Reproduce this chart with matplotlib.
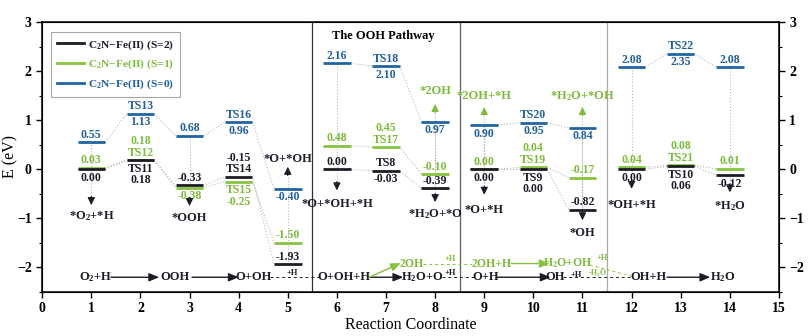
import numpy as np
import matplotlib
matplotlib.use("Agg")
import matplotlib.pyplot as plt

plt.rcParams['font.family'] = 'Liberation Serif'
plt.rcParams['font.weight'] = 'bold'
plt.rcParams['mathtext.fontset'] = 'custom'
plt.rcParams['mathtext.rm'] = 'Liberation Serif:bold'
plt.rcParams['mathtext.it'] = 'Liberation Serif:bold'
plt.rcParams['mathtext.bf'] = 'Liberation Serif:bold'

# ---- data ----
steps = [1, 2, 3, 4, 5, 6, 7, 8, 9, 10, 11, 12, 13, 14]
e_s2 = [0.00, 0.18, -0.33, -0.15, -1.93, 0.00, -0.03, -0.39, 0.00, 0.00, -0.82, 0.00, 0.06, -0.12]
e_s1 = [0.03, 0.18, -0.38, -0.25, -1.50, 0.48, 0.45, -0.10, 0.00, 0.04, -0.17, 0.04, 0.08, 0.01]
e_s0 = [0.55, 1.13, 0.68, 0.96, -0.40, 2.16, 2.10, 0.97, 0.90, 0.95, 0.84, 2.08, 2.35, 2.08]
ts_s2 = ['', 'TS11', '', 'TS14', '', '', 'TS8', '', '', 'TS9', '', '', 'TS10', '']
ts_s1 = ['', 'TS12', '', 'TS15', '', '', 'TS17', '', '', 'TS19', '', '', 'TS21', '']
ts_s0 = ['', 'TS13', '', 'TS16', '', '', 'TS18', '', '', 'TS20', '', '', 'TS22', '']
segments = [(1, 5), (6, 8), (9, 11), (12, 14)]
series_names = ['C$_2$N\u2212Fe(II) (S=2)', 'C$_2$N\u2212Fe(II) (S=1)', 'C$_2$N\u2212Fe(II) (S=0)']

# intermediates (adsorbed species)
spec_x = [1, 3, 5, 6, 8, 8, 9, 9, 11, 11, 12, 14]
spec_text = ['*O$_2$+*H', '*OOH', '*O+*OH', '*O+*OH+*H', '*H$_2$O+*O', '*2OH', '*O+*H',
             '*2OH+*H', '*OH', '*H$_2$O+*OH', '*OH+*H', '*H$_2$O']
spec_series = [0, 0, 0, 0, 0, 1, 0, 1, 0, 1, 0, 0]

# gas-phase pathway row
path_black = [('O$_2$+H', 1.08), ('OOH', 2.71), ('O+OH', 4.3), ('O+OH+H', 6.15),
              ('H$_2$O+O', 7.74), ('O+H', 9.02), ('OH', 10.45), ('OH+H', 12.35), ('H$_2$O', 13.85)]
path_green = [('2OH', 7.52), ('2OH+H', 9.15), ('H$_2$O+OH', 10.7)]

# ---- styles / layout ----
colors = ['#1c1c24', '#86c440', '#2065a0']
text_colors = ['#1c1c2a', '#7dbb3c', '#21609a']
pos_s2 = ['below', 'below', 'above', 'above', 'above', 'above', 'split', 'above', 'below', 'below', 'above', 'below', 'below', 'below']
pos_s1 = ['above', 'above', 'below', 'below', 'above', 'above', 'above', 'above', 'above', 'above', 'above', 'above', 'above', 'above']
pos_s0 = ['above', 'split', 'above', 'split', 'below', 'above', 'split', 'below', 'below', 'split', 'below', 'above', 'split', 'above']
spec_label_y = [-0.95, -1.0, 0.2, -0.7, -0.92, 1.6, -0.82, 1.5, -1.3, 1.5, -0.72, -0.75]
spec_arrow = [-0.73, -0.75, 0.05, -0.43, -0.67, 1.33, -0.52, 1.27, -1.04, 1.27, -0.4, -0.47]
hw = 0.28
fs = 8.5

fig = plt.figure(figsize=(8.11, 3.36), dpi=100)
ax = fig.add_axes([0.052, 0.131, 0.9085, 0.8035])

energies = [e_s2, e_s1, e_s0]
ts_names = [ts_s2, ts_s1, ts_s0]
positions = [pos_s2, pos_s1, pos_s0]

# dotted connectors between levels
for k in range(3):
    e = energies[k]
    for a, b in segments:
        for s in range(a, b):
            i = steps.index(s)
            ax.plot([steps[i] + hw, steps[i + 1] - hw], [e[i], e[i + 1]],
                    ls=':', lw=0.8, color='#b8b8b8', zorder=1)

# energy levels and labels
for k in [2, 1, 0]:
    e = energies[k]
    for i, x in enumerate(steps):
        ax.plot([x - hw, x + hw], [e[i], e[i]], color=colors[k], lw=2.0,
                solid_capstyle='butt', zorder=3)
        val = f'{e[i]:.2f}'
        name = ts_names[k][i]
        p = positions[k][i]
        tc = text_colors[k]
        if p == 'split':
            ax.text(x, e[i] + 0.03, name, ha='center', va='bottom', fontsize=fs, color=tc)
            ax.text(x, e[i] - 0.05, val, ha='center', va='top', fontsize=fs, color=tc)
        elif p == 'above':
            s = val + '\n' + name if name else val
            ax.text(x, e[i] + 0.03, s, ha='center', va='bottom', fontsize=fs,
                    color=tc, linespacing=0.95)
        else:
            s = name + '\n' + val if name else val
            ax.text(x, e[i] - 0.05, s, ha='center', va='top', fontsize=fs,
                    color=tc, linespacing=0.95)

# species annotations with arrows and vertical guide lines
for j, x in enumerate(spec_x):
    i = steps.index(x)
    levels = [e_s2[i], e_s1[i], e_s0[i]]
    tip = spec_arrow[j]
    up = spec_label_y[j] > tip
    c = text_colors[spec_series[j]]
    if up:
        base = tip - 0.18
        ax.plot([x, x], [min(levels), base], ls=':', lw=0.8, color='#b8b8b8', zorder=1)
    else:
        base = tip + 0.18
        ax.plot([x, x], [base, max(levels)], ls=':', lw=0.8, color='#b8b8b8', zorder=1)
    ax.text(x, spec_label_y[j], spec_text[j], ha='center', va='center', fontsize=9, color=c)
    ax.annotate('', xy=(x, tip), xytext=(x, base),
                arrowprops=dict(arrowstyle='-|>,head_length=0.45,head_width=0.22',
                                color=c, lw=0.8, shrinkA=0, shrinkB=0))

# separators
ax.axvline(5.5, color='#303030', lw=0.9)
ax.axvline(8.5, color='#606060', lw=0.9)
ax.axvline(11.5, color='#aaaaaa', lw=0.9)

ax.text(6.95, 2.72, 'The OOH Pathway', ha='center', va='center', fontsize=9)

# gas-phase pathway row
yb, yg = -2.2, -1.92
for t, x in path_black:
    ax.text(x, yb, t, ha='center', va='center', fontsize=9, color=colors[0])
for t, x in path_green:
    ax.text(x, yg, t, ha='center', va='center', fontsize=8.5, color=text_colors[1])

arr_k = dict(arrowstyle='-|>,head_length=0.6,head_width=0.25', color=colors[0], lw=1.0,
             shrinkA=0, shrinkB=0)
arr_g = dict(arr_k, color=colors[1])
for x0, x1 in [(1.4, 2.38), (3.05, 4.0), (6.66, 7.35), (9.24, 10.35), (12.72, 13.6)]:
    ax.annotate('', xy=(x1, yb), xytext=(x0, yb), arrowprops=arr_k)
ax.annotate('', xy=(7.3, -1.91), xytext=(6.66, yb), arrowprops=arr_g)
ax.annotate('', xy=(10.33, yg), xytext=(9.55, yg), arrowprops=arr_g)

for x0, x1 in [(4.64, 5.66), (8.14, 8.8), (10.6, 12.0)]:
    ax.plot([x0, x1], [yb, yb], ls=(0, (3, 3)), lw=0.7, color=colors[0])
ax.plot([7.75, 8.75], [yg, yg], ls=(0, (3, 3)), lw=0.7, color=colors[1])
ax.plot([11.15, 12.0], [yg - 0.03, yb + 0.02], ls=(0, (3, 3)), lw=0.7, color=colors[1])
for x, y in [(5.1, -2.11), (8.3, -2.11), (10.88, -2.15)]:
    ax.text(x, y, '+H', ha='center', va='center', fontsize=6, color=colors[0])
ax.text(8.3, -1.82, '+H', ha='center', va='center', fontsize=6, color=text_colors[1])
ax.text(11.4, -1.8, '+H', ha='center', va='center', fontsize=6, color=text_colors[1])
ax.text(11.3, -2.12, '-H$_2$O', ha='center', va='center', fontsize=5.5, color=text_colors[1])

# axes styling
ax.set_xlim(0, 15)
ax.set_ylim(-2.5, 3)
ax.set_xticks(range(0, 16))
ax.set_yticks(range(-2, 4))
ax.set_yticks(np.arange(-2.5, 3.01, 0.5), minor=True)
ax.tick_params(axis='both', which='major', labelsize=10, direction='out', length=4, width=1)
ax.tick_params(axis='y', which='minor', direction='out', length=2.5, width=0.8)
for sp in ax.spines.values():
    sp.set_linewidth(1.1)
ax.set_xlabel('Reaction Coordinate', fontsize=11.5, labelpad=1)
ax.set_ylabel('E (eV)', fontsize=11.5)
ax.yaxis.set_label_coords(-0.032, 0.5)

ax2 = ax.twinx()
ax2.set_ylim(-2.5, 3)
ax2.set_yticks(range(-2, 4))
ax2.set_yticks(np.arange(-2.5, 3.01, 0.5), minor=True)
ax2.tick_params(axis='y', which='major', labelsize=10, direction='out', length=4, width=1)
ax2.tick_params(axis='y', which='minor', direction='out', length=2.5, width=0.8)

handles = [plt.Line2D([], [], color=colors[k], lw=2.0) for k in range(3)]
leg = ax.legend(handles, series_names, loc='upper left', fontsize=8.2, frameon=True,
                fancybox=False, edgecolor='#909090', handlelength=2.4, handletextpad=0.3,
                borderpad=0.55, labelspacing=0.55, bbox_to_anchor=(0.004, 0.985))
leg.get_frame().set_linewidth(0.8)
for t, c in zip(leg.get_texts(), text_colors):
    t.set_color(c)

fig.savefig('out.png', dpi=100)
